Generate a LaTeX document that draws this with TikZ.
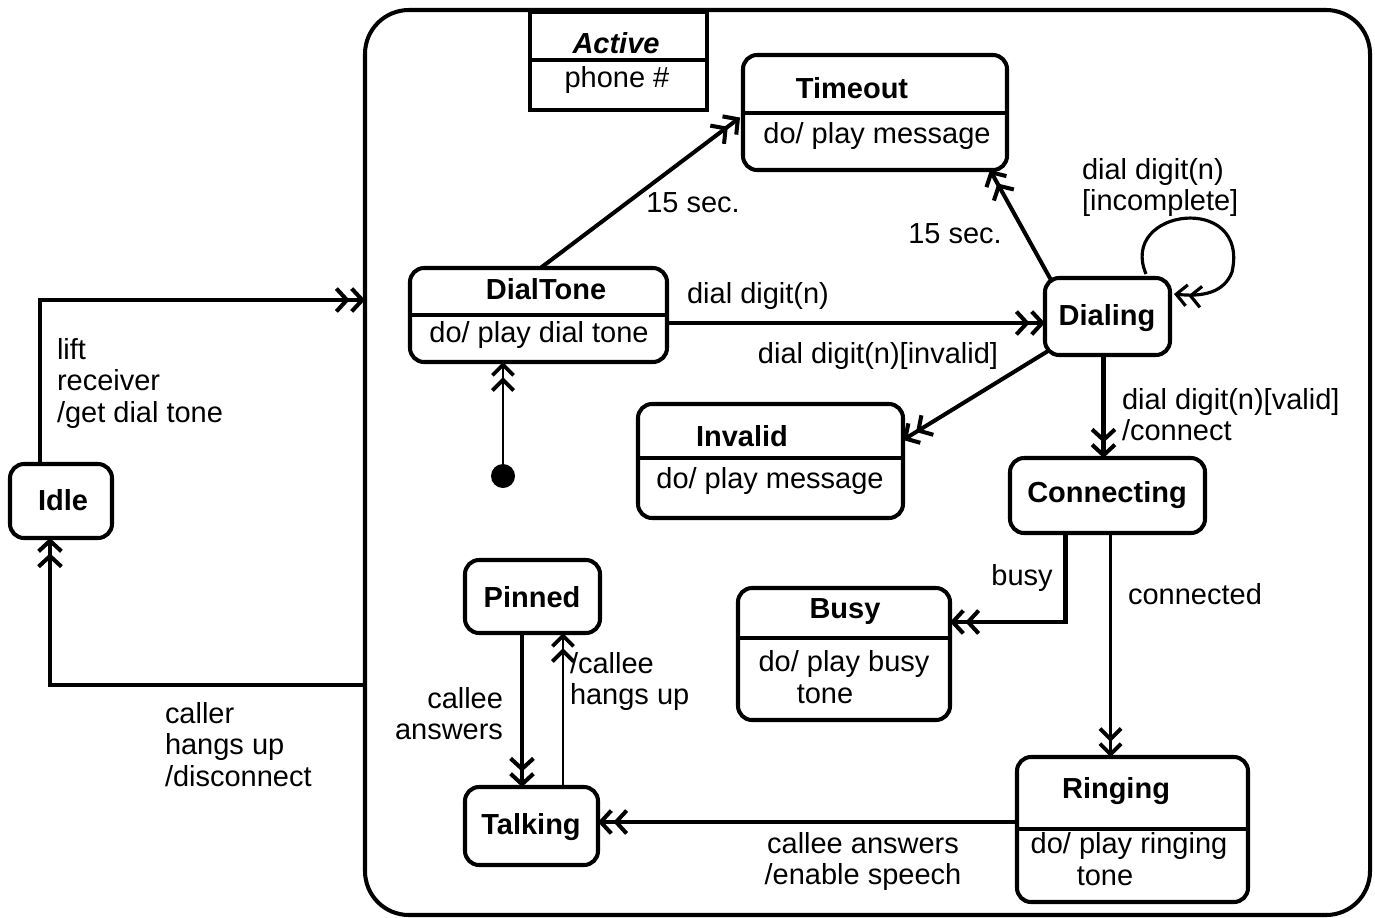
\documentclass[tikz,border=0pt]{standalone}
\usepackage{fontspec}
\setmainfont{Liberation Sans}
\usetikzlibrary{arrows.meta,fit,calc}
\newcommand\myfs{\fontsize{16.5pt}{18pt}\selectfont}
\begin{document}
\begin{tikzpicture}[x=0.02cm,y=-0.02cm,
  every node/.style={inner sep=0pt, outer sep=0pt},
  txt/.style={font=\myfs},
  ttl/.style={font=\myfs\bfseries},
  ml/.style={font=\myfs, align=left},
  state/.style={draw, line width=2.3pt, rounded corners=8pt, inner sep=0pt},
  plainbox/.style={draw, line width=2pt, inner sep=0pt},
  outerbox/.style={draw, line width=2.3pt, rounded corners=25pt, inner sep=0pt},
  divider/.style={line width=1.8pt},
  tr/.style={line width=2.3pt, -{Straight Barb[length=6pt,width=13pt]Straight Barb[length=6pt,width=13pt]}},
  trthin/.style={line width=1.2pt, -{Straight Barb[length=6pt,width=12pt,line width=2.2pt]Straight Barb[length=6pt,width=12pt,line width=2.2pt]}},
]
\useasboundingbox (0,0) rectangle (1375,917);
\fill[white] (0,0) rectangle (1375,917);

% composite state
\node[outerbox, fit={(365,10) (1370,915)}] (active) {};
\node[plainbox, fit={(530,12) (707,110)}] (activelbl) {};
\draw[divider] ($(activelbl.north west)+(0,48)$) -- ($(activelbl.north east)+(0,48)$);
\node[font=\myfs\bfseries\itshape] (activeT) at (616,43) {Active};
\node[txt] (activeB) at (617,80) {phone \#};

% states
\node[state, fit={(10,464) (112,538)}] (idle) {};
\node[ttl] (idleT) at (63,500) {Idle};

\node[state, fit={(743,55) (1007,170)}] (timeout) {};
\draw[divider] ($(timeout.north west)+(0,58)$) -- ($(timeout.north east)+(0,58)$);
\node[ttl] (timeoutT) at (852,88) {Timeout};
\node[txt] (timeoutB) at (877,136) {do/ play message};

\node[state, fit={(410,268) (667,362)}] (dialtone) {};
\draw[divider] ($(dialtone.north west)+(0,47)$) -- ($(dialtone.north east)+(0,47)$);
\node[ttl] (dialtoneT) at (546,289) {DialTone};
\node[txt] (dialtoneB) at (539,335) {do/ play dial tone};

\node[state, fit={(1045,278) (1170,355)}] (dialing) {};
\node[ttl] (dialingT) at (1107,318) {Dialing};

\node[state, fit={(638,404) (903,518)}] (invalid) {};
\draw[divider] ($(invalid.north west)+(0,54)$) -- ($(invalid.north east)+(0,54)$);
\node[ttl] (invalidT) at (742,436) {Invalid};
\node[txt] (invalidB) at (770,481) {do/ play message};

\node[state, fit={(1010,458) (1205,533)}] (connecting) {};
\node[ttl] (connectingT) at (1107,495) {Connecting};

\node[state, fit={(738,588) (950,720)}] (busy) {};
\draw[divider] ($(busy.north west)+(0,50)$) -- ($(busy.north east)+(0,50)$);
\node[ttl] (busyT) at (845,612) {Busy};
\node[txt] (busyB1) at (844,664) {do/ play busy};
\node[txt] (busyB2) at (825,694) {tone};

\node[state, fit={(465,560) (600,633)}] (pinned) {};
\node[ttl] (pinnedT) at (532,597) {Pinned};

\node[state, fit={(465,787) (598,865)}] (talking) {};
\node[ttl] (talkingT) at (531,827) {Talking};

\node[state, fit={(1017,757) (1248,902)}] (ringing) {};
\draw[divider] ($(ringing.north west)+(0,72)$) -- ($(ringing.north east)+(0,72)$);
\node[ttl] (ringingT) at (1116,791) {Ringing};
\node[txt] (ringingB1) at (1129,846) {do/ play ringing};
\node[txt] (ringingB2) at (1105,876) {tone};

% initial pseudo state
\node[circle, fill, minimum size=24*0.02cm] (init) at (503,476) {};

% helper coordinates
\coordinate (y300) at (0,300);
\coordinate (y685) at (0,685);
\coordinate (y323) at (0,323);
\coordinate (y622) at (0,622);
\coordinate (y822) at (0,822);
\coordinate (x522) at (522,0);
\coordinate (x563) at (563,0);

% transitions
\draw[tr] ($(idle.north)+(-21,0)$) |- (active.west |- y300);
\node[ml, anchor=north west] (lblLift) at (57,338) {lift\\receiver\\/get dial tone};

\draw[tr] (active.west |- y685) -| ($(idle.south)+(-11,0)$);
\node[ml, anchor=north west] (lblCaller) at (165,702) {caller\\hangs up\\/disconnect};

\draw[trthin] (init) -- (init |- dialtone.south);

\draw[tr] ($(dialtone.north)+(2,0)$) -- ($(timeout.west)+(-3,5)$);
\node[txt] (lbl15a) at (693,203) {15 sec.};

\draw[tr] (dialtone.east |- y323) -- (dialing.west |- y323);
\node[txt] (lblDD) at (758,296) {dial digit(n)};

\draw[tr] ($(dialing.north west)+(6,2)$) -- ($(timeout.south east)+(-17,0)$);
\node[txt] (lbl15b) at (955,234) {15 sec.};

\coordinate (loopS) at ($(dialing.north east)+(-24,-4)$);
\coordinate (loopE) at ($(dialing.north east)+(4,16)$);
\draw[line width=1.8pt, -{Straight Barb[length=6pt,width=12pt]Straight Barb[length=6pt,width=12pt]}]
  (loopS) .. controls (1118,208) and (1250,192) .. (1232,272)
          .. controls (1224,293) and (1202,297) .. (loopE);
\node[ml, anchor=north west] (lblInc) at (1082,158) {dial digit(n)\\{}[incomplete]};

\draw[tr] ($(dialing.south west)+(3,-4)$) -- ($(invalid.north east)+(0,36)$);
\node[txt] (lblInv) at (878,356) {dial digit(n)[invalid]};

\draw[tr] ($(dialing.south)+(-4,0)$) coordinate (d1) -- (d1 |- connecting.north);
\node[ml, anchor=north west] (lblValid) at (1122,388) {dial digit(n)[valid]\\/connect};

\draw[tr] ($(connecting.south)+(-42,0)$) |- (busy.east |- y622);
\node[txt] (lblBusy) at (1022,578) {busy};

\draw[trthin] ($(connecting.south)+(3,0)$) coordinate (c1) -- (c1 |- ringing.north);
\node[txt] (lblConn) at (1195,594) {connected};

\draw[tr] (ringing.west |- y822) -- (talking.east |- y822);
\node[txt, align=center, anchor=north] (lblAns) at (863,832) {callee answers\\/enable speech};

\draw[tr] (pinned.south -| x522) -- (talking.north -| x522);
\node[ml, align=right, anchor=north east] (lblCA) at (503,687) {callee\\answers};

\draw[trthin] (talking.north -| x563) -- (pinned.south -| x563);
\node[ml, anchor=north west] (lblHang) at (570,652) {/callee\\hangs up};
\end{tikzpicture}
\end{document}
